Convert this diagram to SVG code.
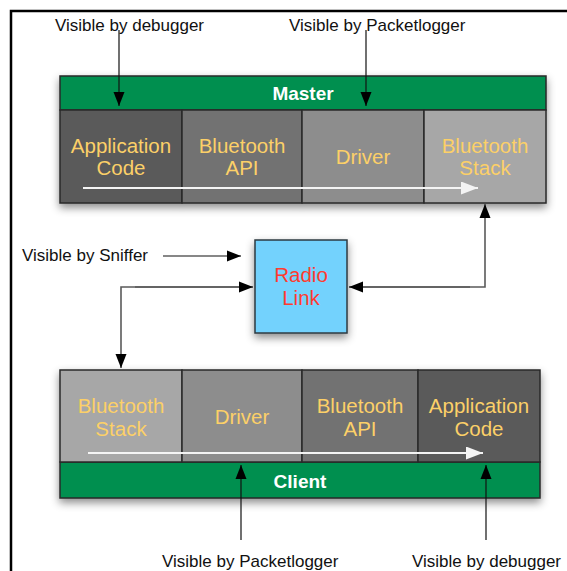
<svg xmlns="http://www.w3.org/2000/svg" width="567" height="571" viewBox="0 0 567 571">
<style>
.lbl{font-family:"Liberation Sans",Arial,sans-serif;font-size:17px;fill:#111}
.cell{font-family:"Liberation Sans",Arial,sans-serif;font-size:20.5px;fill:#fcd068;text-anchor:middle}
.bar{font-family:"Liberation Sans",Arial,sans-serif;font-size:19px;font-weight:bold;fill:#fff;text-anchor:middle}
.radio{font-family:"Liberation Sans",Arial,sans-serif;font-size:20.5px;fill:#ff3b2f;text-anchor:middle}
.cb{stroke:#2a2a2a;stroke-width:1.5}
.conn{fill:none;stroke:#5a5a5a;stroke-width:1.6}
.ptr{fill:none;stroke:#111;stroke-width:1.2}
.flow{fill:none;stroke:#f4f4f4;stroke-width:2.2}
</style>
<defs>
<filter id="sh" x="-10%" y="-20%" width="120%" height="150%">
<feDropShadow dx="0" dy="4" stdDeviation="4" flood-color="#000" flood-opacity="0.45"/>
</filter>
<marker id="ah" markerWidth="14" markerHeight="12" viewBox="0 0 14 12" refX="14" refY="6" orient="auto" markerUnits="userSpaceOnUse">
<path d="M0,0.5 L14,6 L0,11.5 Z" fill="#000"/>
</marker>
<marker id="wh" markerWidth="17" markerHeight="13" viewBox="0 0 17 13" refX="17" refY="6.5" orient="auto" markerUnits="userSpaceOnUse">
<path d="M0,0 L17,6.5 L0,13 Z" fill="#f4f4f4"/>
</marker>
</defs>
<rect width="567" height="571" fill="#fff"/>
<path d="M11,571 V11 H567" fill="none" stroke="#000" stroke-width="2.5"/>

<g id="master" filter="url(#sh)">
<rect x="60" y="76" width="486" height="34" fill="#008f4f" class="cb"/>
<rect x="60" y="110" width="122" height="93" fill="#5a5a5a" class="cb"/>
<rect x="182" y="110" width="120" height="93" fill="#727272" class="cb"/>
<rect x="302" y="110" width="122" height="93" fill="#8d8d8d" class="cb"/>
<rect x="424" y="110" width="122" height="93" fill="#a7a7a7" class="cb"/>
</g>
<g id="master-text">
<text x="303" y="100" class="bar">Master</text>
<text x="121" y="153" class="cell">Application</text><text x="121" y="175" class="cell">Code</text>
<text x="242" y="153" class="cell">Bluetooth</text><text x="242" y="175" class="cell">API</text>
<text x="363" y="164" class="cell">Driver</text>
<text x="485" y="153" class="cell">Bluetooth</text><text x="485" y="175" class="cell">Stack</text>
<line x1="83" y1="188" x2="478" y2="188" class="flow" marker-end="url(#wh)"/>
</g>

<g id="client" filter="url(#sh)">
<rect x="60" y="462" width="480" height="36" fill="#008f4f" class="cb"/>
<rect x="60" y="370" width="122" height="92" fill="#a7a7a7" class="cb"/>
<rect x="182" y="370" width="120" height="92" fill="#8d8d8d" class="cb"/>
<rect x="302" y="370" width="116" height="92" fill="#727272" class="cb"/>
<rect x="418" y="370" width="122" height="92" fill="#5a5a5a" class="cb"/>
</g>
<g id="client-text">
<text x="300" y="488" class="bar">Client</text>
<text x="121" y="413" class="cell">Bluetooth</text><text x="121" y="436" class="cell">Stack</text>
<text x="242" y="424" class="cell">Driver</text>
<text x="360" y="413" class="cell">Bluetooth</text><text x="360" y="436" class="cell">API</text>
<text x="479" y="413" class="cell">Application</text><text x="479" y="436" class="cell">Code</text>
<line x1="88" y1="453" x2="483" y2="453" class="flow" marker-end="url(#wh)"/>
</g>

<g id="radio">
<rect x="255" y="240" width="92" height="93" fill="#73d2fd" stroke="#2e3a40" stroke-width="1.5" filter="url(#sh)"/>
<text x="301" y="282" class="radio">Radio</text>
<text x="301" y="305" class="radio">Link</text>
</g>

<g id="labels">
<text x="55" y="31" class="lbl">Visible by debugger</text>
<text x="289" y="31" class="lbl">Visible by Packetlogger</text>
<text x="22" y="261" class="lbl">Visible by Sniffer</text>
<text x="162" y="567" class="lbl">Visible by Packetlogger</text>
<text x="412" y="567" class="lbl">Visible by debugger</text>
</g>

<g id="connectors">
<line x1="119" y1="30" x2="119" y2="106" class="ptr" marker-end="url(#ah)"/>
<line x1="366" y1="30" x2="366" y2="106" class="ptr" marker-end="url(#ah)"/>
<line x1="163" y1="256" x2="241" y2="256" class="ptr" marker-end="url(#ah)"/>
<polyline points="253,287 121,287 121,368" class="conn" marker-end="url(#ah)"/>
<line x1="135" y1="287" x2="253" y2="287" class="conn" marker-end="url(#ah)"/>
<polyline points="349,287 485,287 485,204" class="conn" marker-end="url(#ah)"/>
<line x1="470" y1="287" x2="349" y2="287" class="conn" marker-end="url(#ah)"/>
<line x1="241" y1="540" x2="241" y2="465" class="ptr" marker-end="url(#ah)"/>
<line x1="486" y1="540" x2="486" y2="465" class="ptr" marker-end="url(#ah)"/>
</g>
</svg>
